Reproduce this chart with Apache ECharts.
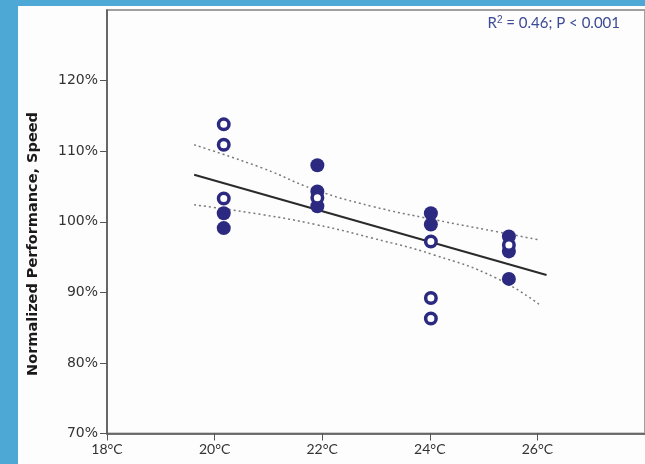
<!DOCTYPE html>
<html>
<head>
<meta charset="utf-8">
<script src="https://cdn.jsdelivr.net/npm/echarts@6/dist/echarts.min.js"></script>
<style>
  html, body { margin: 0; padding: 0; background: #4ea8d6; }
  #main { width: 645px; height: 464px; }
</style>
</head>
<body>
<div id="main"></div>
<script>
// temperature (°C) , normalized speed (%)
var openPoints = [
  [20.17, 113.8], [20.17, 110.9], [20.17, 103.3],
  [21.91, 103.4],
  [24.02, 97.2], [24.02, 89.2], [24.02, 86.3],
  [25.47, 96.7]
];
var filledPoints = [
  [20.17, 101.2], [20.17, 99.1],
  [21.91, 108.0], [21.91, 104.3], [21.91, 102.2],
  [24.02, 101.2], [24.02, 99.6],
  [25.47, 97.9], [25.47, 95.8], [25.47, 91.9]
];
var fitLine = [[19.62, 106.67], [26.17, 92.45]];
var upperCI = [[19.62, 110.9], [20.89, 107.6], [21.88, 104.5], [22.92, 102.2], [24.08, 100.3], [25.24, 98.6], [26.05, 97.4]];
var lowerCI = [[19.62, 102.4], [20.89, 101.0], [21.88, 99.6], [22.92, 97.7], [24.08, 95.3], [25.24, 92.0], [26.05, 88.2]];
var xTicks = [18, 20, 22, 24, 26];
var yTicks = [70, 80, 90, 100, 110, 120];

var navy = '#2b2a80';
var font = 'Lato, "Open Sans", sans-serif';
var wide = '"DejaVu Sans", sans-serif';

var chart = echarts.init(document.getElementById('main'));

var option = {
  backgroundColor: '#4ea8d6',
  animation: false,
  textStyle: { fontFamily: font },
  grid: {
    left: 107, top: 10, width: 575, height: 423.5,
    show: true, borderColor: '#a0a0a0', borderWidth: 2, backgroundColor: 'transparent'
  },
  graphic: [
    { type: 'rect', z: -10, shape: { x: 18, y: 6, width: 640, height: 470 }, style: { fill: '#fdfdfd' } },
    {
      type: 'text', x: 33, y: 244, rotation: Math.PI / 2,
      style: {
        text: 'Normalized Performance, Speed', fill: '#1a1a1a',
        font: 'bold 14.5px ' + wide, align: 'center', verticalAlign: 'middle'
      }
    },
    {
      type: 'text', right: 25, top: 15,
      style: {
        text: 'R{sup|2} = 0.46; P < 0.001',
        fill: '#3d4a96', font: '15px ' + font,
        rich: { sup: { fontSize: 10, verticalAlign: 'top', padding: [0, 0, 6, 0], fill: '#3d4a96' } }
      }
    }
  ],
  xAxis: {
    type: 'value', min: 18, max: 28, interval: 2,
    axisLine: { lineStyle: { color: '#555', width: 1.5 } },
    axisTick: { show: true, length: 7, lineStyle: { color: '#555' }, customValues: xTicks },
    axisLabel: { color: '#333', fontSize: 14, margin: 9, customValues: xTicks, formatter: function (v) { return v + '°C'; } },
    splitLine: { show: false }
  },
  yAxis: {
    type: 'value', min: 70, max: 130, interval: 10,
    axisLine: { show: true, lineStyle: { color: '#555', width: 1.5 } },
    axisTick: { show: true, length: 7, lineStyle: { color: '#555' }, customValues: yTicks },
    axisLabel: { color: '#333', fontSize: 14, fontFamily: wide, margin: 9, customValues: yTicks, formatter: function (v) { return v + '%'; } },
    splitLine: { show: false }
  },
  series: [
    {
      type: 'line', data: upperCI, smooth: true, showSymbol: false, z: 2,
      lineStyle: { color: '#7a7a7a', width: 1.5, type: [2, 3] }
    },
    {
      type: 'line', data: lowerCI, smooth: true, showSymbol: false, z: 2,
      lineStyle: { color: '#7a7a7a', width: 1.5, type: [2, 3] }
    },
    {
      type: 'line', data: fitLine, showSymbol: false, z: 3,
      lineStyle: { color: '#2a2a2a', width: 2 }
    },
    {
      type: 'scatter', data: filledPoints, symbolSize: 14, z: 5,
      itemStyle: { color: navy, opacity: 1 }
    },
    {
      type: 'scatter', data: openPoints, symbolSize: 10.5, z: 6,
      itemStyle: { color: '#fff', borderColor: navy, borderWidth: 3.5, opacity: 1 }
    }
  ]
};

chart.setOption(option);
</script>
</body>
</html>
